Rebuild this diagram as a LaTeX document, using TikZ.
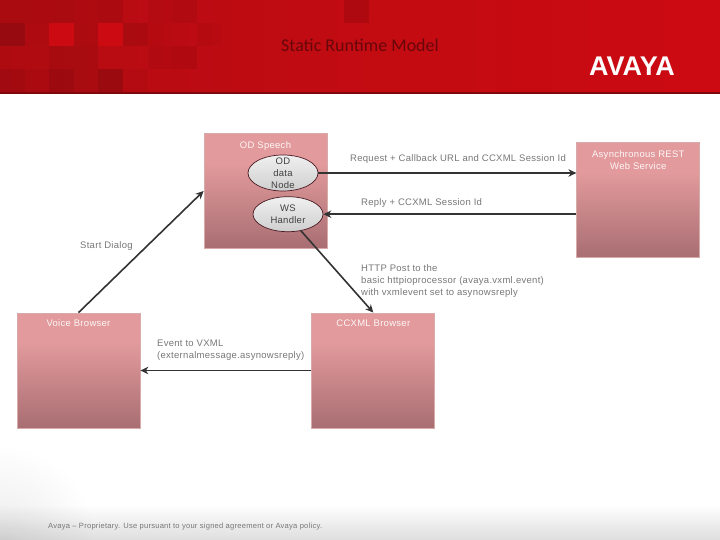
\documentclass[tikz,border=0pt]{standalone}
\usepackage{xcolor}
\usepackage{fontspec}
\setmainfont{Liberation Sans}
\newfontfamily\titlefont{Carlito}
\newfontfamily\lblfont[LetterSpace=3]{Liberation Sans}
\usetikzlibrary{arrows.meta,positioning,shapes.geometric,fadings}
\definecolor{redbar}{HTML}{CC0A12}
\definecolor{redbardark}{HTML}{B40C12}
\definecolor{boxtop}{HTML}{E29A9C}
\definecolor{boxbot}{HTML}{A86E72}
\definecolor{boxline}{HTML}{D8ABAB}
\definecolor{inkline}{HTML}{333333}
\definecolor{ovalline}{HTML}{4A1A22}
\definecolor{lblgray}{HTML}{777777}
\pgfdeclareverticalshading{boxshade}{100bp}{color(0bp)=(boxbot); color(25bp)=(boxbot); color(62bp)=(boxtop); color(100bp)=(boxtop)}
\tikzfading[name=cornerhaze, inner color=transparent!0, outer color=transparent!100]
\tikzset{
  box/.style={rectangle, draw=boxline, line width=0.8pt, shading=boxshade,
              minimum width=123pt, minimum height=115pt, inner sep=0pt},
  boxtitle/.style={font=\lblfont\fontsize{9.5}{12}\selectfont, text=white!92!boxtop, align=center, inner sep=0pt},
  oval/.style={ellipse, draw=ovalline, line width=0.7pt, top color=gray!12, bottom color=gray!38,
               minimum width=70pt, inner xsep=0pt, inner ysep=-3pt, align=center,
               font=\lblfont\fontsize{9.5}{12}\selectfont, text=black!75},
  lbl/.style={font=\lblfont\fontsize{9.5}{12}\selectfont, text=lblgray, align=left, inner sep=0pt},
  flow/.style={-{Stealth[length=8pt,width=7.5pt]}, draw=inkline, line width=1.6pt}
}
\begin{document}
\begin{tikzpicture}[x=1pt,y=-1pt]
  \useasboundingbox (0,0) rectangle (720,540);
  % header band
  \shade[left color=redbardark, right color=redbar, middle color=redbar!60!redbardark] (0,0) rectangle (720,93);
  \fill[black!30!redbardark] (0,92.5) rectangle (720,94);
  \foreach \col/\row/\dark in {0/0/.06,1/0/.06,2/0/.07,3/0/.05,4/0/.07,6/0/.03,7/0/.05,14/0/.10,
                               0/1/.16,1/1/.04,3/1/.06,5/1/.08,6/1/.02,8/1/.03,
                               0/2/.03,1/2/.03,2/2/.08,3/2/.08,6/2/.04,7/2/.06,
                               0/3/.10,1/3/.06,2/3/.14,3/3/.08,4/3/.16,5/3/.03}
    \fill[black, opacity=\dark] (\col*24.6,\row*23) rectangle ++(24.6,23);
  \foreach \col in {2,4}
    \fill[redbar] (\col*24.6,23) rectangle ++(24.6,23);
  % footer haze
  \fill[black, opacity=.13, path fading=north] (0,505) rectangle (720,540);
  \fill[black, opacity=.08, path fading=cornerhaze] (0,540) circle (95);

  \node[font=\titlefont\fontsize{18}{20}\selectfont, text=black!42!redbardark] (title) at (360,45) {Static Runtime Model};
  \node[font=\bfseries\fontsize{27}{30}\selectfont, text=white] (logo) at (632,66) {AVAYA};

  \node[box] (speech) at (265.5,191) {};
  \node[box, right=249pt of speech, yshift=-9pt] (rest) {};
  \node[box] (voice) at (78.5,370.5) {};
  \node[box, right=171pt of voice] (ccxml) {};

  \node[boxtitle, below=8pt of speech.north] (speechtitle) {OD Speech};
  \node[boxtitle, below=8pt of rest.north] (resttitle) {Asynchronous REST\\Web Service};
  \node[boxtitle, below=7pt of voice.north] (voicetitle) {Voice Browser};
  \node[boxtitle, below=7pt of ccxml.north] (ccxmltitle) {CCXML Browser};

  \node[oval, minimum height=36pt] (odnode) at (283,173) {OD\\data\\Node};
  \node[oval, minimum height=35pt, below=5pt of odnode, xshift=5pt] (wshandler) {WS\\Handler};

  \draw[flow] (voice.north) -- (speech.west);
  \draw[flow] (odnode.east) -- (odnode.east -| rest.west);
  \draw[flow] (wshandler.east -| rest.west) -- (wshandler.east);
  \draw[flow] (wshandler.-52) -- (ccxml.north);
  \draw[flow] (ccxml.west) -- (voice.east);

  \node[lbl, anchor=west] (requestlbl) at (350,159.5) {Request + Callback URL and CCXML Session Id};
  \node[lbl, anchor=west] (replylbl) at (361,203.5) {Reply + CCXML Session Id};
  \node[lbl, anchor=west] (startlbl) at (80,246.5) {Start Dialog};
  \node[lbl, anchor=north west] (httplbl) at (361,264.5) {HTTP Post to the\\basic httpioprocessor (avaya.vxml.event)\\with vxmlevent  set to asynowsreply};
  \node[lbl, anchor=north west] (eventlbl) at (157,339.5) {Event to VXML\\(externalmessage.asynowsreply)};
  \node[lbl, anchor=west, font=\lblfont\fontsize{7.6}{9}\selectfont] (footer) at (48,527) {Avaya – Proprietary. Use pursuant to your signed agreement or Avaya policy.};
\end{tikzpicture}
\end{document}
